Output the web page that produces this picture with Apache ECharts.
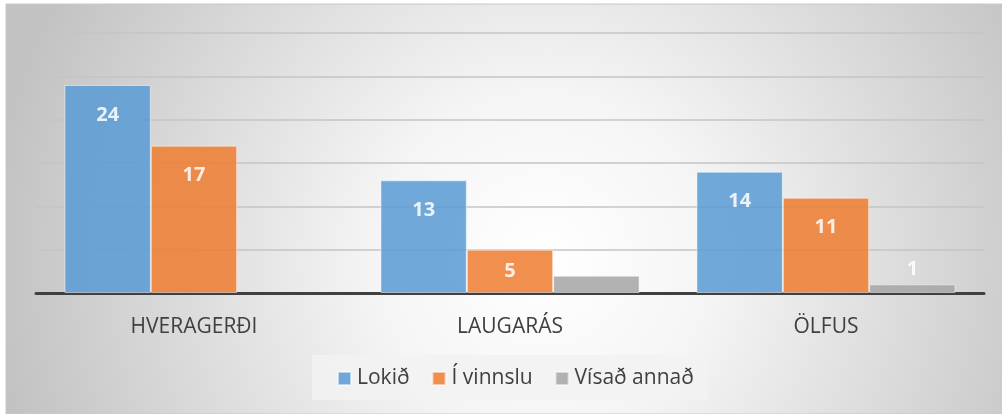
<!DOCTYPE html>
<html>
<head>
<meta charset="utf-8">
<script src="https://cdn.jsdelivr.net/npm/echarts@6/dist/echarts.min.js"></script>
<style>
html,body{margin:0;padding:0;background:#fff;}
#c{width:1002px;height:414px;}
</style>
</head>
<body>
<div id="c"></div>
<script>
const categories = ['HVERAGERÐI', 'LAUGARÁS', 'ÖLFUS'];
const seriesNames = ['Lokið', 'Í vinnslu', 'Vísað annað'];
const lokid = [24, 13, 14];
const iVinnslu = [17, 5, 11];
const visadAnnad = [0, 2, 1];
const colors = ['#5B9BD5', '#ED7D31', '#A5A5A5'];

const FONT = '"Open Sans", "DejaVu Sans", sans-serif';
const chart = echarts.init(document.getElementById('c'), null, {renderer: 'canvas'});

function makeData(vals, si) {
  return vals.map((v, ci) => {
    if (v === 0) return {value: v, label: {show: false}, itemStyle: {borderWidth: 0, opacity: 0}};
    // white label over white background in the reference (not visible)
    if (v === 2) return {value: v, label: {show: false}};
    if (v <= 3) return {value: v, label: {position: 'top', distance: 5}};
    if (v <= 6) return {value: v, label: {position: 'inside'}};
    return v;
  });
}

const allVals = [lokid, iVinnslu, visadAnnad];
const series = allVals.map((vals, i) => ({
  name: seriesNames[i],
  type: 'bar',
  data: makeData(vals, i),
  barGap: '0%',
  barCategoryGap: '18%',
  itemStyle: {color: colors[i], opacity: 0.86, borderColor: 'rgba(255,255,255,0.6)', borderWidth: 1},
  label: {
    show: true, position: 'insideTop', distance: 20,
    color: '#ffffff', fontWeight: 'bold', fontSize: 20, fontFamily: FONT
  },
  z: 3
}));

chart.setOption({
  animation: false,
  backgroundColor: '#ffffff',
  graphic: [{
    type: 'rect', z: -10, silent: true,
    shape: {x: 6, y: 4, width: 996, height: 410},
    style: {
      fill: new echarts.graphic.RadialGradient(0.54, 0.62, 1.35, [
        {offset: 0, color: '#ffffff'},
        {offset: 0.3, color: '#f5f5f5'},
        {offset: 1, color: '#c2c2c2'}
      ]),
      stroke: '#c8c8c8', lineWidth: 1
    }
  }, {
    type: 'rect', z: -5, silent: true,
    shape: {x: 312, y: 355, width: 396, height: 45},
    style: {fill: 'rgba(242,242,242,0.85)'}
  }],
  grid: {left: 36, right: 18, top: 33, bottom: 121, containLabel: false},
  legend: {
    data: seriesNames,
    bottom: 17,
    left: 327,
    icon: 'rect',
    itemWidth: 13, itemHeight: 13, itemGap: 22,
    textStyle: {fontSize: 21, color: '#404040', fontFamily: FONT, padding: [0, 0, 0, 1]},
    padding: [8, 10]
  },
  xAxis: {
    type: 'category',
    data: categories,
    axisLine: {lineStyle: {color: '#404040', width: 3}},
    axisTick: {show: false},
    axisLabel: {fontSize: 21, color: '#404040', fontFamily: FONT, margin: 24}
  },
  yAxis: {
    type: 'value',
    min: 0, max: 30, interval: 5,
    axisLabel: {show: false},
    axisLine: {show: false},
    axisTick: {show: false},
    splitLine: {lineStyle: {color: '#c4c4c4', width: 1.5}}
  },
  series: series
});
</script>
</body>
</html>
